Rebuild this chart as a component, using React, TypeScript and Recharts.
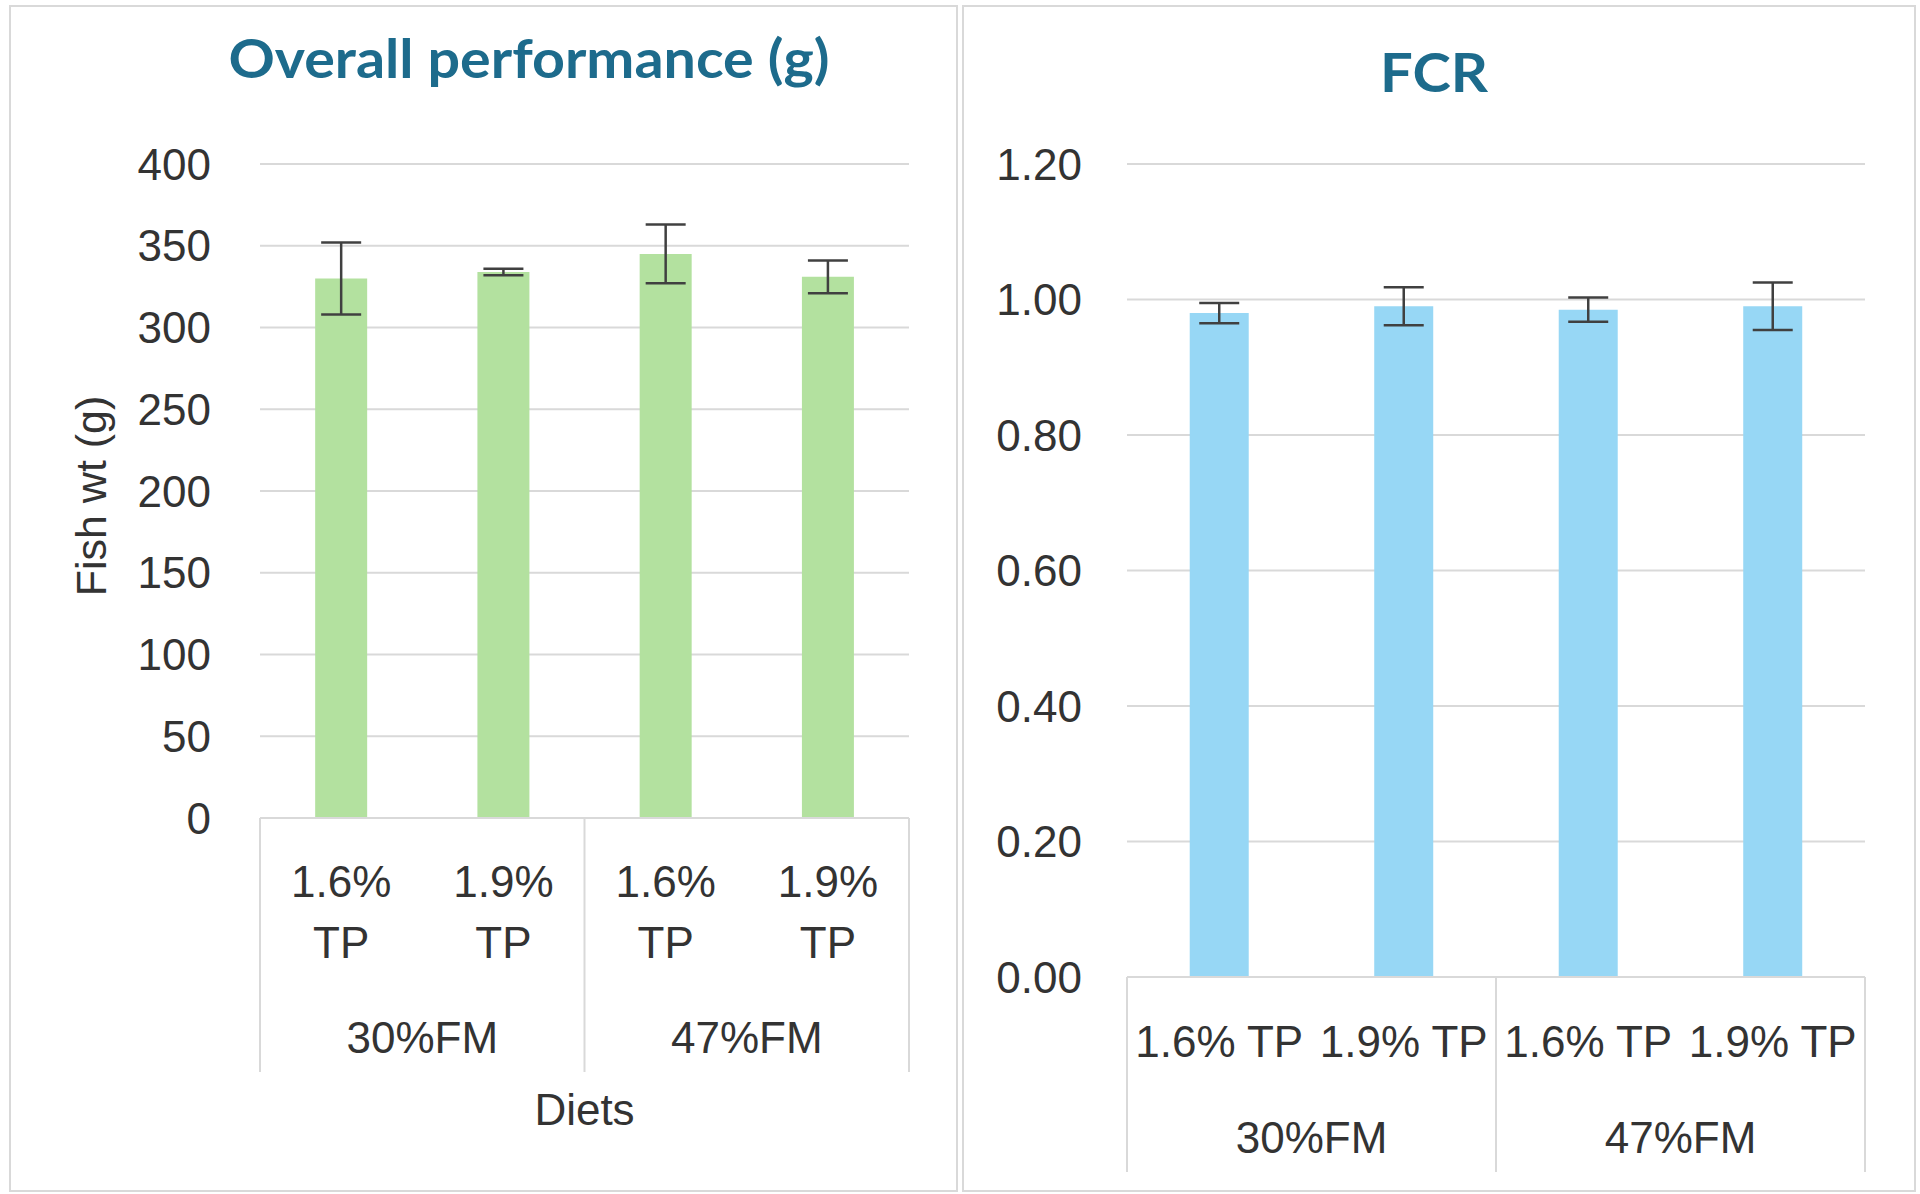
import React from "react";
import { BarChart, Bar, XAxis, YAxis, CartesianGrid, ErrorBar } from "recharts";

const diets = ["1.6% TP", "1.9% TP", "1.6% TP", "1.9% TP"];
const fishMeal = ["30%FM", "30%FM", "47%FM", "47%FM"];
const fishWt = [330, 334, 345, 331];
const fishWtErr = [22, 2, 18, 10];
const fcr = [0.98, 0.99, 0.985, 0.99];
const fcrErr = [0.015, 0.028, 0.018, 0.035];
const wtTicks = [0, 50, 100, 150, 200, 250, 300, 350, 400];
const fcrTicks = [0, 0.2, 0.4, 0.6, 0.8, 1.0, 1.2];

const wtData = diets.map((d, i) => ({ diet: d, fm: fishMeal[i], v: fishWt[i], err: fishWtErr[i] }));
const fcrData = diets.map((d, i) => ({ diet: d, fm: fishMeal[i], v: fcr[i], err: fcrErr[i] }));

const FONT = "'Liberation Sans', Arial, sans-serif";
const TITLE_FONT = "Lato, 'Noto Sans', sans-serif";
const TEXT = "#333333";
const GRID = "#d9d9d9";

const LEFT_CAT = (909 - 260) / 4;
const RIGHT_CAT = (1865 - 1127) / 4;

function LeftTick(props: any) {
  const { x, y, index, payload } = props;
  const [pct, tp] = String(payload.value).split(" ");
  const half = LEFT_CAT / 2;
  return (
    <g>
      <text x={x} y={y + 79} textAnchor="middle" fontSize={44} fontFamily={FONT} fill={TEXT}>{pct}</text>
      <text x={x} y={y + 140} textAnchor="middle" fontSize={44} fontFamily={FONT} fill={TEXT}>{tp}</text>
      {index % 2 === 1 && (
        <text x={x - half} y={y + 235} textAnchor="middle" fontSize={44} fontFamily={FONT} fill={TEXT}>
          {fishMeal[index]}
        </text>
      )}
      {index === 0 && <line x1={x - half} x2={x - half} y1={y} y2={y + 254} stroke={GRID} strokeWidth={2} />}
      {index % 2 === 1 && <line x1={x + half} x2={x + half} y1={y} y2={y + 254} stroke={GRID} strokeWidth={2} />}
      {index === 1 && (
        <text x={x + half} y={y + 307} textAnchor="middle" fontSize={44} fontFamily={FONT} fill={TEXT}>Diets</text>
      )}
    </g>
  );
}

function RightTick(props: any) {
  const { x, y, index, payload } = props;
  const half = RIGHT_CAT / 2;
  return (
    <g>
      <text x={x} y={y + 80} textAnchor="middle" fontSize={44} fontFamily={FONT} fill={TEXT}>{payload.value}</text>
      {index % 2 === 1 && (
        <text x={x - half} y={y + 176} textAnchor="middle" fontSize={44} fontFamily={FONT} fill={TEXT}>
          {fishMeal[index]}
        </text>
      )}
      {index === 0 && <line x1={x - half} x2={x - half} y1={y} y2={y + 195} stroke={GRID} strokeWidth={2} />}
      {index % 2 === 1 && <line x1={x + half} x2={x + half} y1={y} y2={y + 195} stroke={GRID} strokeWidth={2} />}
    </g>
  );
}

export default function App() {
  return (
    <div style={{ position: "absolute", left: 0, top: 0, width: 1920, height: 1194, background: "#fff", fontFamily: FONT }}>
      <div style={{ position: "absolute", left: 9, top: 5, width: 945, height: 1183, border: `2px solid ${GRID}` }} />
      <div style={{ position: "absolute", left: 962, top: 5, width: 950, height: 1183, border: `2px solid ${GRID}` }} />

      <div style={{ position: "absolute", left: 0, top: 0 }}>
        <BarChart width={960} height={1194} data={wtData} margin={{ top: 164, right: 51, left: 180, bottom: 0 }} barCategoryGap="34%">
          <CartesianGrid vertical={false} stroke={GRID} strokeWidth={2} />
          <XAxis dataKey="diet" interval={0} height={376} tickLine={false} tickSize={0} tickMargin={0}
            axisLine={{ stroke: GRID, strokeWidth: 2 }} tick={(p: any) => <LeftTick {...p} />} />
          <YAxis domain={[0, 400]} ticks={wtTicks} width={80} axisLine={false} tickLine={false} tickSize={0} tickMargin={49}
            tick={{ fontSize: 44, fontFamily: FONT, fill: TEXT }} />
          <Bar dataKey="v" fill="#b3e19f" isAnimationActive={false}>
            <ErrorBar dataKey="err" width={20} stroke="#404040" strokeWidth={2.5} />
          </Bar>
        </BarChart>
      </div>

      <div style={{ position: "absolute", left: 960, top: 0 }}>
        <BarChart width={960} height={1194} data={fcrData} margin={{ top: 164, right: 55, left: 87, bottom: 0 }} barCategoryGap="34%">
          <CartesianGrid vertical={false} stroke={GRID} strokeWidth={2} />
          <XAxis dataKey="diet" interval={0} height={217} tickLine={false} tickSize={0} tickMargin={0}
            axisLine={{ stroke: GRID, strokeWidth: 2 }} tick={(p: any) => <RightTick {...p} />} />
          <YAxis domain={[0, 1.2]} ticks={fcrTicks} width={80} axisLine={false} tickLine={false} tickSize={0} tickMargin={45}
            tickFormatter={(v: number) => v.toFixed(2)} tick={{ fontSize: 44, fontFamily: FONT, fill: TEXT }} />
          <Bar dataKey="v" fill="#97d7f5" isAnimationActive={false}>
            <ErrorBar dataKey="err" width={20} stroke="#404040" strokeWidth={2.5} />
          </Bar>
        </BarChart>
      </div>

      <svg width={1920} height={1194} style={{ position: "absolute", left: 0, top: 0, pointerEvents: "none" }}>
        <text x={529} y={78} textAnchor="middle" fontSize={53} fontWeight={700} fontFamily={TITLE_FONT} fill="#1d6b8c"
          textLength={601} lengthAdjust="spacingAndGlyphs">
          Overall performance (g)
        </text>
        <text x={1434} y={92} textAnchor="middle" fontSize={54} fontWeight={700} fontFamily={TITLE_FONT} fill="#1d6b8c"
          textLength={108} lengthAdjust="spacingAndGlyphs">
          FCR
        </text>
        <text x={0} y={0} transform="translate(106 496) rotate(-90)" textAnchor="middle" fontSize={43} fontFamily={FONT} fill={TEXT}>
          Fish wt (g)
        </text>
      </svg>
    </div>
  );
}
